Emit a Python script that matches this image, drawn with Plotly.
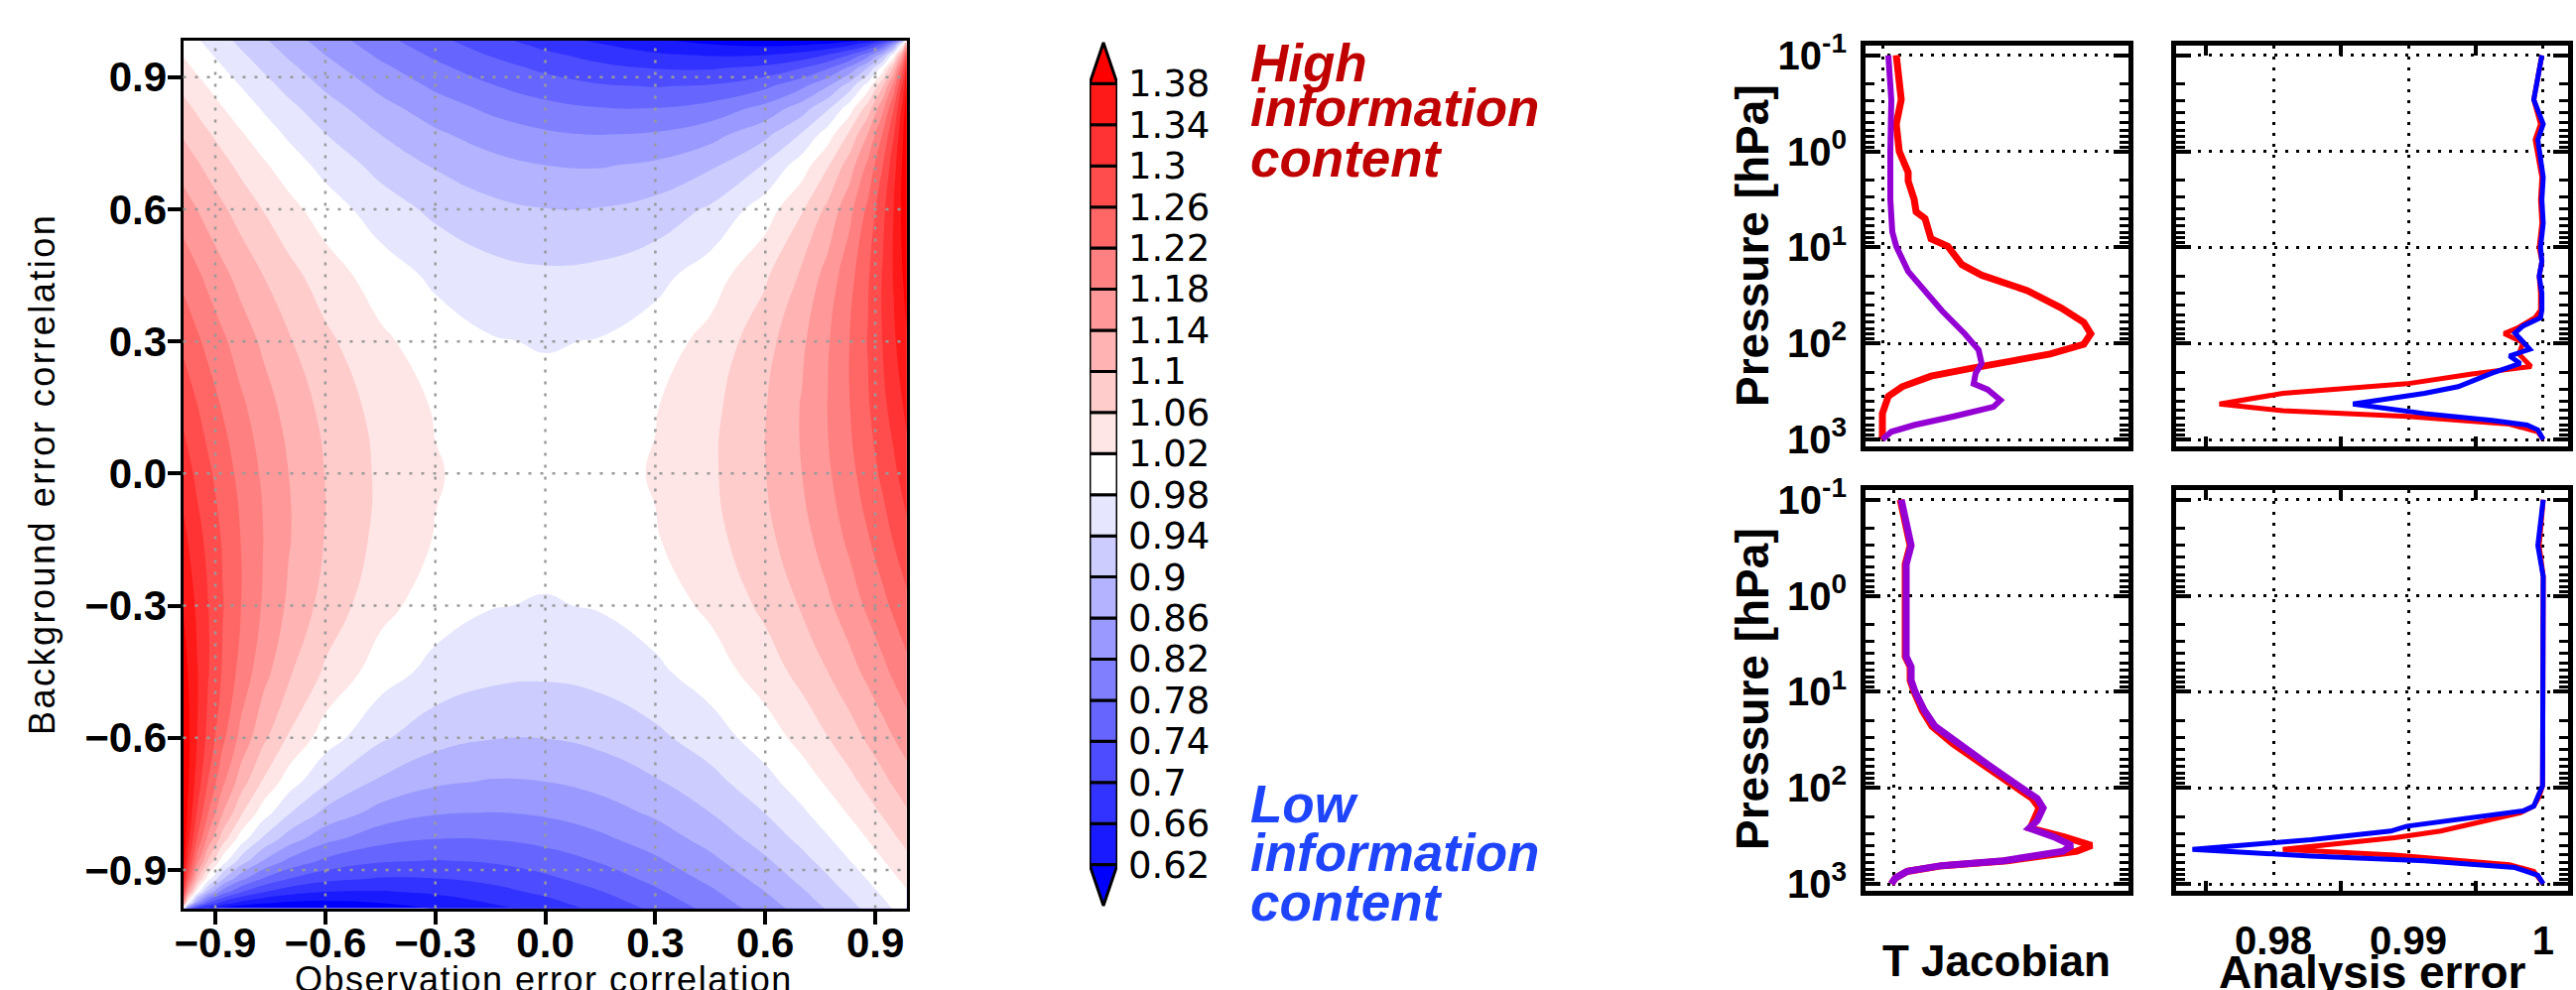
import plotly.graph_objects as go

W, H = 2596, 998


def fx(p):
    return p / W


def fy(p):
    return 1 - p / H


# ---------------- ratio of information content over the correlation plane ----------------
obs_corr = [-0.99, -0.975, -0.95, -0.92, -0.88, -0.83, -0.77, -0.7, -0.6, -0.45, -0.3, -0.15, 0.0,
            0.15, 0.3, 0.45, 0.6, 0.7, 0.77, 0.83, 0.88, 0.92, 0.95, 0.975, 0.99]
bkg_corr = [-0.99, -0.975, -0.95, -0.92, -0.88, -0.83, -0.77, -0.7, -0.6, -0.45, -0.3, -0.15, 0.0,
            0.15, 0.3, 0.45, 0.6, 0.7, 0.77, 0.83, 0.88, 0.92, 0.95, 0.975, 0.99]
# rows follow bkg_corr, columns follow obs_corr
info_ratio = [
    [1.000, 0.788, 0.672, 0.620, 0.591, 0.576, 0.571, 0.572, 0.579, 0.596, 0.619, 0.645, 0.675, 0.709, 0.747, 0.790, 0.839, 0.875, 0.902, 0.927, 0.948, 0.967, 0.981, 0.993, 1.000],
    [1.212, 1.000, 0.837, 0.745, 0.685, 0.647, 0.625, 0.614, 0.611, 0.620, 0.638, 0.661, 0.688, 0.720, 0.757, 0.799, 0.847, 0.883, 0.910, 0.934, 0.956, 0.974, 0.988, 1.000, 1.007],
    [1.328, 1.163, 1.000, 0.888, 0.803, 0.743, 0.703, 0.677, 0.660, 0.657, 0.667, 0.685, 0.709, 0.738, 0.773, 0.813, 0.860, 0.895, 0.922, 0.946, 0.968, 0.986, 1.000, 1.012, 1.019],
    [1.380, 1.255, 1.112, 1.000, 0.905, 0.832, 0.778, 0.741, 0.712, 0.697, 0.699, 0.711, 0.732, 0.758, 0.791, 0.830, 0.875, 0.910, 0.936, 0.961, 0.982, 1.000, 1.014, 1.026, 1.033],
    [1.409, 1.315, 1.197, 1.095, 1.000, 0.921, 0.858, 0.811, 0.771, 0.744, 0.738, 0.744, 0.760, 0.783, 0.813, 0.850, 0.894, 0.928, 0.954, 0.979, 1.000, 1.018, 1.032, 1.044, 1.052],
    [1.424, 1.353, 1.257, 1.168, 1.079, 1.000, 0.933, 0.880, 0.832, 0.794, 0.780, 0.781, 0.792, 0.812, 0.839, 0.874, 0.917, 0.950, 0.976, 1.000, 1.021, 1.039, 1.054, 1.066, 1.073],
    [1.429, 1.375, 1.297, 1.222, 1.142, 1.067, 1.000, 0.944, 0.890, 0.845, 0.824, 0.819, 0.826, 0.842, 0.867, 0.900, 0.941, 0.974, 1.000, 1.024, 1.046, 1.064, 1.078, 1.090, 1.098],
    [1.428, 1.386, 1.323, 1.259, 1.189, 1.120, 1.056, 1.000, 0.944, 0.893, 0.867, 0.857, 0.860, 0.874, 0.896, 0.927, 0.967, 1.000, 1.026, 1.050, 1.072, 1.090, 1.105, 1.117, 1.125],
    [1.421, 1.389, 1.340, 1.288, 1.229, 1.168, 1.110, 1.056, 1.000, 0.946, 0.915, 0.902, 0.901, 0.911, 0.931, 0.960, 1.000, 1.033, 1.059, 1.083, 1.106, 1.125, 1.140, 1.153, 1.161],
    [1.404, 1.380, 1.343, 1.303, 1.256, 1.206, 1.155, 1.107, 1.054, 1.000, 0.967, 0.951, 0.947, 0.954, 0.972, 1.000, 1.040, 1.073, 1.100, 1.126, 1.150, 1.170, 1.187, 1.201, 1.210],
    [1.381, 1.362, 1.333, 1.301, 1.262, 1.220, 1.176, 1.133, 1.085, 1.033, 1.000, 0.982, 0.977, 0.983, 1.000, 1.028, 1.069, 1.104, 1.133, 1.161, 1.187, 1.209, 1.227, 1.243, 1.253],
    [1.355, 1.339, 1.315, 1.289, 1.256, 1.219, 1.181, 1.143, 1.098, 1.049, 1.018, 1.000, 0.994, 1.000, 1.017, 1.046, 1.089, 1.126, 1.158, 1.188, 1.217, 1.242, 1.262, 1.280, 1.291],
    [1.325, 1.312, 1.291, 1.268, 1.240, 1.208, 1.174, 1.140, 1.099, 1.053, 1.023, 1.006, 1.000, 1.006, 1.023, 1.053, 1.099, 1.140, 1.174, 1.208, 1.240, 1.268, 1.291, 1.312, 1.325],
    [1.291, 1.280, 1.262, 1.242, 1.217, 1.188, 1.158, 1.126, 1.089, 1.046, 1.017, 1.000, 0.994, 1.000, 1.018, 1.049, 1.098, 1.143, 1.181, 1.219, 1.256, 1.289, 1.315, 1.339, 1.355],
    [1.253, 1.243, 1.227, 1.209, 1.187, 1.161, 1.133, 1.104, 1.069, 1.028, 1.000, 0.983, 0.977, 0.982, 1.000, 1.033, 1.085, 1.133, 1.176, 1.220, 1.262, 1.301, 1.333, 1.362, 1.381],
    [1.210, 1.201, 1.187, 1.170, 1.150, 1.126, 1.100, 1.073, 1.040, 1.000, 0.972, 0.954, 0.947, 0.951, 0.967, 1.000, 1.054, 1.107, 1.155, 1.206, 1.256, 1.303, 1.343, 1.380, 1.404],
    [1.161, 1.153, 1.140, 1.125, 1.106, 1.083, 1.059, 1.033, 1.000, 0.960, 0.931, 0.911, 0.901, 0.902, 0.915, 0.946, 1.000, 1.056, 1.110, 1.168, 1.229, 1.288, 1.340, 1.389, 1.421],
    [1.125, 1.117, 1.105, 1.090, 1.072, 1.050, 1.026, 1.000, 0.967, 0.927, 0.896, 0.874, 0.860, 0.857, 0.867, 0.893, 0.944, 1.000, 1.056, 1.120, 1.189, 1.259, 1.323, 1.386, 1.428],
    [1.098, 1.090, 1.078, 1.064, 1.046, 1.024, 1.000, 0.974, 0.941, 0.900, 0.867, 0.842, 0.826, 0.819, 0.824, 0.845, 0.890, 0.944, 1.000, 1.067, 1.142, 1.222, 1.297, 1.375, 1.429],
    [1.073, 1.066, 1.054, 1.039, 1.021, 1.000, 0.976, 0.950, 0.917, 0.874, 0.839, 0.812, 0.792, 0.781, 0.780, 0.794, 0.832, 0.880, 0.933, 1.000, 1.079, 1.168, 1.257, 1.353, 1.424],
    [1.052, 1.044, 1.032, 1.018, 1.000, 0.979, 0.954, 0.928, 0.894, 0.850, 0.813, 0.783, 0.760, 0.744, 0.738, 0.744, 0.771, 0.811, 0.858, 0.921, 1.000, 1.095, 1.197, 1.315, 1.409],
    [1.033, 1.026, 1.014, 1.000, 0.982, 0.961, 0.936, 0.910, 0.875, 0.830, 0.791, 0.758, 0.732, 0.711, 0.699, 0.697, 0.712, 0.741, 0.778, 0.832, 0.905, 1.000, 1.112, 1.255, 1.380],
    [1.019, 1.012, 1.000, 0.986, 0.968, 0.946, 0.922, 0.895, 0.860, 0.813, 0.773, 0.738, 0.709, 0.685, 0.667, 0.657, 0.660, 0.677, 0.703, 0.743, 0.803, 0.888, 1.000, 1.163, 1.328],
    [1.007, 1.000, 0.988, 0.974, 0.956, 0.934, 0.910, 0.883, 0.847, 0.799, 0.757, 0.720, 0.688, 0.661, 0.638, 0.620, 0.611, 0.614, 0.625, 0.647, 0.685, 0.745, 0.837, 1.000, 1.212],
    [1.000, 0.993, 0.981, 0.967, 0.948, 0.927, 0.902, 0.875, 0.839, 0.790, 0.747, 0.709, 0.675, 0.645, 0.619, 0.596, 0.579, 0.572, 0.571, 0.576, 0.591, 0.620, 0.672, 0.788, 1.000],
]

levels = [0.62, 0.66, 0.70, 0.74, 0.78, 0.82, 0.86, 0.90, 0.94, 0.98,
          1.02, 1.06, 1.10, 1.14, 1.18, 1.22, 1.26, 1.30, 1.34, 1.38]
level_labels = ["0.62", "0.66", "0.7", "0.74", "0.78", "0.82", "0.86", "0.9", "0.94", "0.98",
                "1.02", "1.06", "1.1", "1.14", "1.18", "1.22", "1.26", "1.3", "1.34", "1.38"]
# one colour per band: below 0.62, the 19 inner bands, above 1.38
band_colors = ["#0000ff", "#1a1aff", "#3333ff", "#4d4dff", "#6666ff", "#8080ff", "#9999ff",
               "#b3b3ff", "#ccccff", "#e6e6ff", "#ffffff", "#ffe6e6", "#ffcccc", "#ffb3b3",
               "#ff9999", "#ff8080", "#ff6666", "#ff4d4d", "#ff3333", "#ff1a1a", "#ff0000"]
corr_ticks = [-0.9, -0.6, -0.3, 0.0, 0.3, 0.6, 0.9]
corr_labels = ["\u22120.9", "\u22120.6", "\u22120.3", "0.0", "0.3", "0.6", "0.9"]

# ---------------- vertical profiles (pressure in hPa) ----------------
p_ticks = [0.1, 1, 10, 100, 1000]
p_labels = ["10<sup>-1</sup>", "10<sup>0</sup>", "10<sup>1</sup>", "10<sup>2</sup>", "10<sup>3</sup>"]
err_ticks = [0.98, 0.99, 1.0]
err_labels = ["0.98", "0.99", "1"]
err_minor = [0.975, 0.985, 0.995]

# upper row, temperature Jacobian
tl_p_red = [0.1, 0.29, 0.52, 1.0, 1.66, 2.04, 3.16, 4.27, 5.01, 6.92, 8.13, 9.77, 15.1, 19.5, 28.2,
            42.7, 60.3, 79.4, 102, 129, 155, 182, 219, 282, 355, 537, 933, 1000]
tl_jac_red = [0.14, 0.19, 0.14, 0.17, 0.26, 0.26, 0.32, 0.34, 0.43, 0.46, 0.49, 0.66, 0.80, 1.00, 1.46,
              1.80, 2.03, 2.10, 2.03, 1.69, 1.23, 0.89, 0.49, 0.20, 0.06, 0.00, 0.00, -0.01]
tl_p_pur = [0.1, 0.29, 1.0, 3.16, 6.92, 9.77, 17.8, 28.2, 45.7, 79.4, 117, 162, 204, 263, 302, 389,
            457, 575, 708, 832, 1000]
tl_jac_pur = [0.06, 0.09, 0.08, 0.08, 0.10, 0.14, 0.26, 0.43, 0.60, 0.83, 0.97, 1.00, 0.94, 0.92, 1.06,
              1.19, 1.12, 0.72, 0.32, 0.09, 0.00]

# upper row, analysis error
tr_p_blue = [0.1, 0.29, 0.52, 0.76, 1.86, 3.2, 5.6, 10, 14, 20, 30, 45, 54, 66, 78, 115, 135, 162,
             204, 282, 331, 427, 537, 631, 708, 794, 1000]
tr_err_blue = [0.9999, 0.9993, 1.0, 0.9996, 1.0, 0.9999, 1.0, 0.9998, 0.9999, 0.9997, 0.9999, 0.9999,
               0.9998, 0.9985, 0.9979, 0.9990, 0.9975, 0.9983, 0.9962, 0.9937, 0.9912, 0.9859, 0.9912,
               0.9962, 0.9988, 0.9996, 1.0]
tr_p_red = [0.1, 0.29, 0.52, 0.76, 1.86, 3.2, 5.6, 10, 14, 20, 30, 45, 54, 69, 79, 98, 129, 174,
            209, 263, 331, 427, 501, 575, 692, 832, 1000]
tr_err_red = [0.9999, 0.9993, 0.9998, 0.9994, 0.9999, 0.9998, 0.9999, 0.9997, 0.9999, 0.9997, 0.9998,
              0.9998, 0.9994, 0.9981, 0.9971, 0.9985, 0.9982, 0.9991, 0.9946, 0.9899, 0.9807, 0.9760,
              0.9807, 0.9899, 0.9975, 0.9996, 1.0]

# lower row, temperature Jacobian
bl_p = [0.1, 0.30, 0.47, 2.0, 4.3, 5.5, 7.6, 10, 15.5, 22.9, 34.7, 56, 89, 129, 162, 219, 263, 324,
        398, 457, 575, 646, 741, 871, 1000]
bl_jac_pur = [0.08, 0.18, 0.13, 0.13, 0.13, 0.18, 0.18, 0.22, 0.31, 0.42, 0.65, 0.94, 1.22, 1.45, 1.51,
              1.45, 1.37, 1.62, 1.80, 1.71, 1.11, 0.48, 0.14, 0.02, -0.02]
bl_jac_red = [0.07, 0.17, 0.12, 0.12, 0.12, 0.17, 0.17, 0.21, 0.29, 0.39, 0.60, 0.89, 1.17, 1.40, 1.47,
              1.42, 1.38, 1.72, 2.00, 1.85, 1.15, 0.50, 0.14, 0.02, -0.02]

# lower row, analysis error
br_p_blue = [0.1, 0.30, 0.63, 2.0, 5.0, 10, 20, 40, 70, 95, 123, 155, 174, 204, 251, 282, 347, 437,
             513, 575, 676, 813, 1000]
br_err_blue = [1.0, 0.9996, 1.0, 1.0, 1.0, 1.0, 1.0, 1.0, 1.0, 0.99995, 0.9996, 0.9993, 0.9985, 0.9946,
               0.9899, 0.9887, 0.9828, 0.9740, 0.9828, 0.9912, 0.9979, 0.9996, 1.0]
br_p_red = [0.1, 0.30, 0.63, 2.0, 5.0, 10, 20, 40, 70, 95, 123, 155, 182, 214, 282, 331, 437, 501,
            631, 741, 1000]
br_err_red = [1.0, 0.9997, 1.0, 1.0, 1.0, 1.0, 1.0, 1.0, 1.0, 0.99995, 0.9997, 0.9993, 0.9983, 0.9962,
              0.9924, 0.9890, 0.9807, 0.9890, 0.9975, 0.9993, 1.0]

RED = "#ff0000"
PURPLE = "#9400d3"
BLUE = "#0000ff"
BOLD = "Liberation Sans, Arial, sans-serif"

fig = go.Figure()

# ---------------- filled contours ----------------
n_b = len(band_colors)
cscale = [[k / (n_b - 1), c] for k, c in enumerate(band_colors)]
step = round(levels[1] - levels[0], 4)
fig.add_trace(go.Contour(
    x=obs_corr, y=bkg_corr, z=info_ratio, autocontour=False,
    contours=dict(start=levels[0], end=levels[-1], size=step, coloring="fill", showlines=False),
    colorscale=cscale, showscale=False, line=dict(smoothing=1.3, width=0),
    xaxis="x", yaxis="y", hoverinfo="skip"))

# ---------------- colour key with pointed ends ----------------
fig.add_trace(go.Bar(
    x=[0] * (len(levels) - 1), y=[step] * (len(levels) - 1), base=levels[:-1], width=1,
    marker=dict(color=band_colors[1:-1], line=dict(color="black", width=3)),
    xaxis="x2", yaxis="y2", hoverinfo="skip"))
fig.add_trace(go.Scatter(
    x=[-0.5, 0.5, 0, -0.5], y=[levels[-1], levels[-1], levels[-1] + step, levels[-1]],
    mode="lines", fill="toself", fillcolor=band_colors[-1], line=dict(color="black", width=3),
    xaxis="x2", yaxis="y2", hoverinfo="skip"))
fig.add_trace(go.Scatter(
    x=[-0.5, 0.5, 0, -0.5], y=[levels[0], levels[0], levels[0] - step, levels[0]],
    mode="lines", fill="toself", fillcolor=band_colors[0], line=dict(color="black", width=3),
    xaxis="x2", yaxis="y2", hoverinfo="skip"))


# ---------------- profile panels ----------------
def prof(x, y, color, width, ax):
    fig.add_trace(go.Scatter(x=x, y=y, mode="lines", line=dict(color=color, width=width),
                             xaxis="x" + ax, yaxis="y" + ax, hoverinfo="skip"))


prof(tl_jac_red, tl_p_red, RED, 7, "3")
prof(tl_jac_pur, tl_p_pur, PURPLE, 6, "3")
prof(tr_err_red, tr_p_red, RED, 5, "4")
prof(tr_err_blue, tr_p_blue, BLUE, 5, "4")
prof(bl_jac_red, bl_p, RED, 7, "5")
prof(bl_jac_pur, bl_p, PURPLE, 7, "5")
prof(br_err_red, br_p_red, RED, 5, "6")
prof(br_err_blue, br_p_blue, BLUE, 5, "6")

fig.update_layout(template="none", width=W, height=H, margin=dict(l=0, r=0, t=0, b=0, pad=0),
                  paper_bgcolor="white", plot_bgcolor="rgba(0,0,0,0)", showlegend=False,
                  barmode="overlay")

corr_font = dict(family=BOLD, size=42, color="black", weight="bold")
fig.update_layout(
    xaxis=dict(domain=[fx(184.5), fx(913.5)], range=[-0.988, 0.985], anchor="y", automargin=False,
               tickvals=corr_ticks, ticktext=corr_labels, tickfont=corr_font,
               ticks="outside", ticklen=13, tickwidth=4, tickcolor="black",
               showline=True, linewidth=3, linecolor="black", mirror=True,
               showgrid=False, zeroline=False, ticklabelstandoff=-17),
    yaxis=dict(domain=[fy(915.5), fy(40.5)], range=[-0.987, 0.984], anchor="x", automargin=False,
               tickvals=corr_ticks, ticktext=corr_labels, tickfont=corr_font,
               ticks="outside", ticklen=13, tickwidth=4, tickcolor="black",
               showline=True, linewidth=3, linecolor="black", mirror=True,
               showgrid=False, zeroline=False, ticklabelstandoff=-8),
    xaxis2=dict(domain=[fx(1098), fx(1126)], range=[-0.5, 0.5], anchor="y2", visible=False,
                automargin=False),
    yaxis2=dict(domain=[fy(916), fy(40)], range=[levels[0] - step * 1.07, levels[-1] + step * 1.07],
                anchor="x2", side="right", automargin=False,
                tickvals=levels, ticktext=level_labels,
                tickfont=dict(family="DejaVu Sans, sans-serif", size=37, color="black"),
                ticks="", showgrid=False, zeroline=False, showline=False, ticklabelstandoff=10),
)

p_range = [3.072, -1.10]
y_common = dict(type="log", range=p_range, tickvals=p_ticks, ticktext=p_labels, automargin=False,
                ticks="inside", ticklen=15, tickwidth=4, tickcolor="black",
                minor=dict(tickvals=[m * 10 ** e for e in range(-1, 3) for m in range(2, 10)],
                           ticks="inside", ticklen=9, tickwidth=3, tickcolor="black"),
                showline=True, linewidth=5, linecolor="black", mirror="allticks",
                showgrid=True, gridcolor="black", gridwidth=3, griddash="3px,8px",
                zeroline=False,
                tickfont=dict(family=BOLD, size=40, color="black", weight="bold"),
                ticklabelstandoff=6)
x_jac = dict(tickvals=[0], showticklabels=False, ticks="", automargin=False,
             showline=True, linewidth=5, linecolor="black", mirror=True,
             showgrid=True, gridcolor="black", gridwidth=3, griddash="3px,8px", zeroline=False)
x_err = dict(range=[0.97279, 1.00184], tickvals=err_ticks, ticktext=err_labels, ticks="",
             automargin=False,
             minor=dict(tickvals=err_minor, ticks="inside", ticklen=10, tickwidth=4, tickcolor="black"),
             showline=True, linewidth=5, linecolor="black", mirror="allticks",
             showgrid=True, gridcolor="black", gridwidth=3, griddash="3px,8px", zeroline=False,
             tickfont=dict(family=BOLD, size=40, color="black", weight="bold"),
             ticklabelstandoff=11)

top_y = [fy(450), fy(46)]
bot_y = [fy(898), fy(494)]
jac_x = [fx(1880), fx(2145)]
err_x = [fx(2193), fx(2588)]

fig.update_layout(
    xaxis3=dict(x_jac, domain=jac_x, range=[-0.17, 2.48], anchor="y3"),
    yaxis3=dict(y_common, domain=top_y, anchor="x3"),
    xaxis4=dict(x_err, domain=err_x, anchor="y4", showticklabels=False),
    yaxis4=dict(y_common, domain=top_y, anchor="x4", showticklabels=False),
    xaxis5=dict(x_jac, domain=jac_x, range=[-0.28, 2.37], anchor="y5"),
    yaxis5=dict(y_common, domain=bot_y, anchor="x5"),
    xaxis6=dict(x_err, domain=err_x, anchor="y6"),
    yaxis6=dict(y_common, domain=bot_y, anchor="x6", showticklabels=False),
)

# dotted reference lines over the filled contours
for t in corr_ticks:
    fig.add_shape(type="line", xref="x", yref="y domain", x0=t, x1=t, y0=0, y1=1, layer="above",
                  line=dict(color="#9a9a9a", width=2.5, dash="3px,9px"))
    fig.add_shape(type="line", xref="x domain", yref="y", x0=0, x1=1, y0=t, y1=t, layer="above",
                  line=dict(color="#9a9a9a", width=2.5, dash="3px,9px"))


def note(text, x, y, size, color="black", family=BOLD, weight="normal", style="normal",
         angle=0, xanchor="center", yanchor="middle"):
    fig.add_annotation(text=text, x=fx(x), y=fy(y), xref="paper", yref="paper", showarrow=False,
                       xanchor=xanchor, yanchor=yanchor, textangle=angle,
                       font=dict(family=family, size=size, color=color, weight=weight, style=style))


note('<span style="letter-spacing:1.5px">Observation error correlation</span>', 548, 987, 36)
note('<span style="letter-spacing:2.5px">Background error correlation</span>', 43, 478, 36, angle=-90)

for txt, yy in [("High", 63), ("information", 109), ("content", 159)]:
    note(txt, 1258, yy, 53, color="#c00000", weight="bold", style="italic", xanchor="left")
for txt, yy in [("Low", 810), ("information", 859), ("content", 909)]:
    note(txt, 1258, yy, 53, color="#1f45fc", weight="bold", style="italic", xanchor="left")

note("Pressure [hPa]", 1766, 248, 46, weight="bold", angle=-90)
note("Pressure [hPa]", 1766, 695, 46, weight="bold", angle=-90)
note("T Jacobian", 2012, 968, 44, weight="bold")
note("Analysis error", 2390, 980, 46, weight="bold")

fig.write_html("out.html")
